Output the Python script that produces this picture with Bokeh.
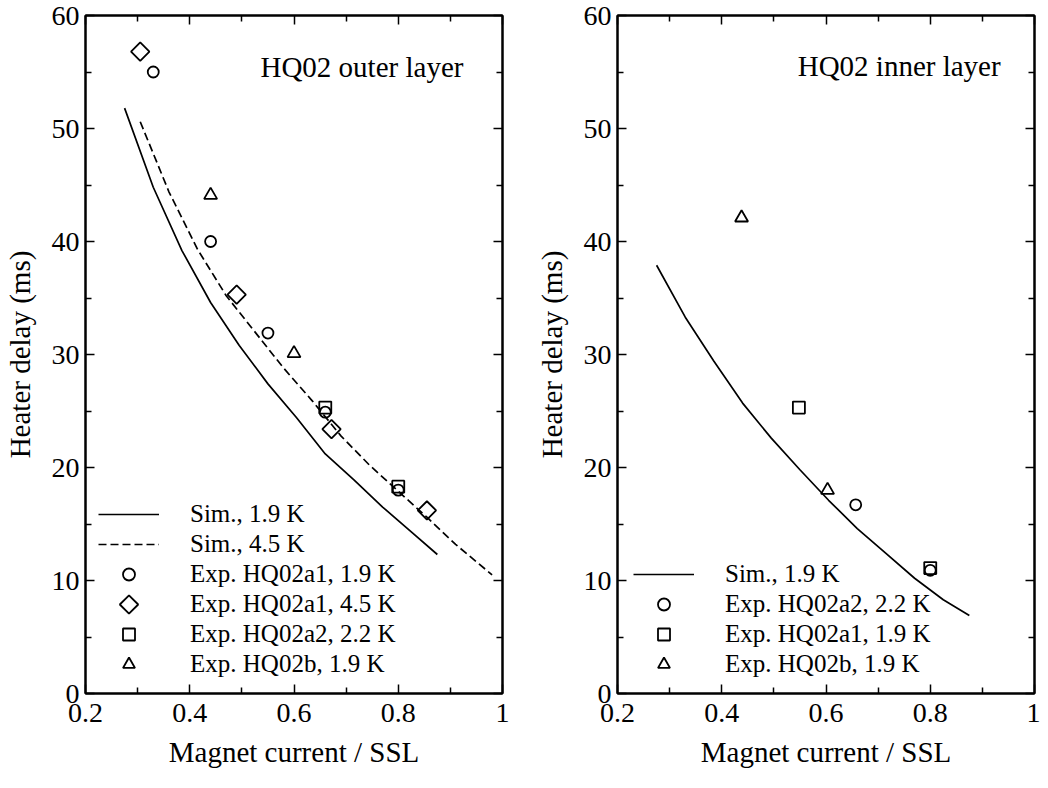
import math
from bokeh.plotting import figure
from bokeh.models import Range1d, LinearAxis, FixedTicker, Legend, LegendItem, Label
from bokeh.layouts import row
from bokeh.embed import file_html
from bokeh.resources import INLINE

# ---------------- data ----------------
x_ticks = [0.2, 0.4, 0.6, 0.8, 1.0]
x_tick_labels = ["0.2", "0.4", "0.6", "0.8", "1"]
x_minor_ticks = [0.3, 0.5, 0.7, 0.9]
y_ticks = [0, 10, 20, 30, 40, 50, 60]
y_tick_labels = ["0", "10", "20", "30", "40", "50", "60"]
y_minor_ticks = [5, 15, 25, 35, 45, 55]

# Outer layer
outer_sim19_x = [0.275, 0.33, 0.385, 0.44, 0.495, 0.55, 0.605, 0.66, 0.715, 0.77, 0.825, 0.875]
outer_sim19_y = [51.8, 44.8, 39.2, 34.6, 30.8, 27.4, 24.4, 21.2, 18.9, 16.5, 14.3, 12.3]
outer_sim45_x = [0.305, 0.36, 0.415, 0.47, 0.525, 0.58, 0.635, 0.69, 0.745, 0.80, 0.855, 0.91, 0.98]
outer_sim45_y = [50.6, 44.4, 39.3, 35.2, 32.0, 28.8, 25.9, 22.8, 20.2, 17.9, 15.6, 13.2, 10.5]
outer_a1_19_x = [0.33, 0.44, 0.55, 0.66, 0.80]
outer_a1_19_y = [55.0, 40.0, 31.9, 24.9, 18.0]
outer_a1_45_x = [0.305, 0.49, 0.672, 0.855]
outer_a1_45_y = [56.8, 35.3, 23.4, 16.2]
outer_a2_22_x = [0.66, 0.80]
outer_a2_22_y = [25.3, 18.3]
outer_b_19_x = [0.44, 0.60]
outer_b_19_y = [44.1, 30.1]

# Inner layer
inner_sim19_x = [0.275, 0.33, 0.385, 0.44, 0.495, 0.55, 0.605, 0.66, 0.715, 0.77, 0.825, 0.875]
inner_sim19_y = [37.9, 33.3, 29.4, 25.7, 22.6, 19.8, 17.1, 14.6, 12.4, 10.2, 8.3, 6.9]
inner_a2_22_x = [0.657, 0.80]
inner_a2_22_y = [16.7, 10.9]
inner_a1_19_x = [0.548, 0.80]
inner_a1_19_y = [25.3, 11.1]
inner_b_19_x = [0.438, 0.603]
inner_b_19_y = [42.1, 18.0]

FONT = "Liberation Serif"
LW = 1.7
MLW = 1.8
TICK_FS = "28px"
TITLE_FS = "29px"
LEGEND_FS = "25px"
CIRCLE_S, SQUARE_S, TRI_S, DIAM_S = 11, 12, 13, 13

FRAME_W, FRAME_H = 417, 678
X0, X1, Y0, Y1 = 0.2, 1.0, 0, 60
LEG_GLYPH_W, LEG_ROW_H = 61, 30


def style_axis(ax, show_labels, ticks):
    ax.axis_line_width = 2
    ax.axis_line_color = "black"
    ax.major_tick_in = 9
    ax.major_tick_out = 0
    ax.minor_tick_in = 6
    ax.minor_tick_out = 0
    ax.major_tick_line_width = 1.5
    ax.minor_tick_line_width = 1.5
    ax.major_tick_line_color = "black"
    ax.minor_tick_line_color = "black"
    ax.major_label_text_font = FONT
    ax.major_label_text_color = "black"
    ax.axis_label_text_font = FONT
    ax.axis_label_text_font_style = "normal"
    ax.axis_label_text_color = "black"
    ax.axis_label_text_font_size = TITLE_FS
    if show_labels:
        ax.major_label_text_font_size = TICK_FS
    else:
        ax.major_label_overrides = {t: "" for t in ticks}
        ax.major_label_text_font_size = "1px"
        ax.major_label_standoff = 0


def make_fig(min_left, min_right):
    p = figure(frame_width=FRAME_W, frame_height=FRAME_H,
               x_range=Range1d(X0, X1), y_range=Range1d(Y0, Y1),
               output_backend="svg", toolbar_location=None,
               min_border_left=min_left, min_border_right=min_right,
               min_border_top=15, min_border_bottom=84,
               x_axis_label="Magnet current / SSL",
               y_axis_label="Heater delay (ms)")
    p.xgrid.visible = False
    p.ygrid.visible = False
    p.outline_line_color = "black"
    p.outline_line_width = 2
    p.background_fill_color = "white"
    p.border_fill_color = "white"

    xt = FixedTicker(ticks=x_ticks, minor_ticks=x_minor_ticks)
    yt = FixedTicker(ticks=y_ticks, minor_ticks=y_minor_ticks)
    p.xaxis.ticker = xt
    p.yaxis.ticker = yt
    p.xaxis.major_label_overrides = dict(zip(x_ticks, x_tick_labels))
    p.yaxis.major_label_overrides = dict(zip(y_ticks, y_tick_labels))
    style_axis(p.xaxis[0], True, x_ticks)
    style_axis(p.yaxis[0], True, y_ticks)
    p.xaxis.major_label_standoff = 10
    p.yaxis.major_label_standoff = 6
    p.xaxis.axis_label_standoff = 11
    p.yaxis.axis_label_standoff = 13

    top = LinearAxis(ticker=xt)
    right = LinearAxis(ticker=yt)
    style_axis(top, False, x_ticks)
    style_axis(right, False, y_ticks)
    p.add_layout(top, "above")
    p.add_layout(right, "right")
    return p


def legend_for(p, items, loc):
    lg = Legend(items=items, location=loc)
    lg.label_text_font = FONT
    lg.label_text_font_size = LEGEND_FS
    lg.label_text_color = "black"
    lg.glyph_width = LEG_GLYPH_W
    lg.glyph_height = LEG_ROW_H
    lg.label_height = LEG_ROW_H
    lg.label_standoff = 31
    lg.spacing = 0
    lg.padding = 0
    lg.margin = 0
    lg.border_line_color = None
    lg.background_fill_alpha = 0
    p.add_layout(lg)


# ---------------- left: outer layer ----------------
p1 = make_fig(81, 30)
r1 = p1.line(outer_sim19_x, outer_sim19_y, line_color="black", line_width=LW)
r2 = p1.line(outer_sim45_x, outer_sim45_y, line_color="black", line_width=LW, line_dash="8 4")
r3 = p1.scatter(outer_a1_19_x, outer_a1_19_y, marker="circle", size=CIRCLE_S, fill_color=None,
                line_color="black", line_width=MLW)
# diamonds drawn as squares turned by 45 degrees (equal width and height)
r4 = p1.scatter(outer_a1_45_x, outer_a1_45_y, marker="square", angle=math.pi / 4, size=DIAM_S,
                fill_color=None, line_color="black", line_width=MLW)
r4_key = p1.scatter([], [], marker="square", size=1, fill_alpha=0, line_alpha=0)
r5 = p1.scatter(outer_a2_22_x, outer_a2_22_y, marker="square", size=SQUARE_S, fill_color=None,
                line_color="black", line_width=MLW)
r6 = p1.scatter(outer_b_19_x, outer_b_19_y, marker="triangle", size=TRI_S, fill_color=None,
                line_color="black", line_width=MLW)
left_items = [
    LegendItem(label="Sim., 1.9 K", renderers=[r1]),
    LegendItem(label="Sim., 4.5 K", renderers=[r2]),
    LegendItem(label="Exp. HQ02a1, 1.9 K", renderers=[r3]),
    LegendItem(label="Exp. HQ02a1, 4.5 K", renderers=[r4_key]),
    LegendItem(label="Exp. HQ02a2, 2.2 K", renderers=[r5]),
    LegendItem(label="Exp. HQ02b, 1.9 K", renderers=[r6]),
]
left_loc = (13, 14)
legend_for(p1, left_items, left_loc)
# turned-square key for the diamond row, centred in that row's glyph box
key_row = 3
key_px = left_loc[0] + LEG_GLYPH_W / 2
key_py = left_loc[1] + (len(left_items) - 1 - key_row) * LEG_ROW_H + LEG_ROW_H / 2
p1.scatter([X0 + key_px * (X1 - X0) / FRAME_W], [Y0 + key_py * (Y1 - Y0) / FRAME_H],
           marker="square", angle=math.pi / 4, size=DIAM_S, fill_color=None,
           line_color="black", line_width=MLW)
p1.add_layout(Label(x=0.925, y=55.4, text="HQ02 outer layer", text_font=FONT,
                    text_font_size=TITLE_FS, text_align="right", text_baseline="alphabetic",
                    text_color="black"))

# ---------------- right: inner layer ----------------
p2 = make_fig(81, 6)
q1 = p2.line(inner_sim19_x, inner_sim19_y, line_color="black", line_width=LW)
q2 = p2.scatter(inner_a2_22_x, inner_a2_22_y, marker="circle", size=CIRCLE_S, fill_color=None,
                line_color="black", line_width=MLW)
q3 = p2.scatter(inner_a1_19_x, inner_a1_19_y, marker="square", size=SQUARE_S, fill_color=None,
                line_color="black", line_width=MLW)
q4 = p2.scatter(inner_b_19_x, inner_b_19_y, marker="triangle", size=TRI_S, fill_color=None,
                line_color="black", line_width=MLW)
legend_for(p2, [
    LegendItem(label="Sim., 1.9 K", renderers=[q1]),
    LegendItem(label="Exp. HQ02a2, 2.2 K", renderers=[q2]),
    LegendItem(label="Exp. HQ02a1, 1.9 K", renderers=[q3]),
    LegendItem(label="Exp. HQ02b, 1.9 K", renderers=[q4]),
], (16, 14))
p2.add_layout(Label(x=0.935, y=55.5, text="HQ02 inner layer", text_font=FONT,
                    text_font_size=TITLE_FS, text_align="right", text_baseline="alphabetic",
                    text_color="black"))

layout = row(p1, p2)
open("out.html", "w").write(file_html(layout, INLINE))
